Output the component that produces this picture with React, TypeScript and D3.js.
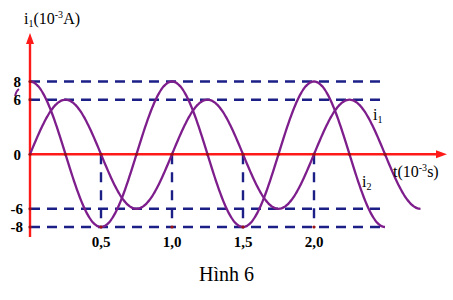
import React from "react";
import * as d3 from "d3";

const yTicks = [8, 6, 0, -6, -8];
const yTickLabels = ["8", "6", "0", "-6", "-8"];
const xTicks = [0.5, 1.0, 1.5, 2.0];
const xTickLabels = ["0,5", "1,0", "1,5", "2,0"];
// i2: amplitude 8 (cosine), i1: amplitude 6 (sine), period 1 ms
const ampCos = 8;
const ampSin = 6;
const period = 1.0;
const tEndCos = 2.5;
const tEndSin = 2.75;

const W = 453;
const H = 300;

export default function App() {
  const x = d3.scaleLinear().domain([0, 1]).range([30, 172]);
  const y = d3.scaleLinear().domain([-8, 8]).range([227, 81.5]);

  const mk = (f: (t: number) => number, t1: number) => {
    const pts: [number, number][] = d3.range(0, t1 + 1e-9, 0.01).map((t) => [t, f(t)]);
    return d3
      .line<[number, number]>()
      .x((d) => x(d[0]))
      .y((d) => y(d[1]))
      .curve(d3.curveMonotoneX)(pts) as string;
  };
  const cosPath = mk((t) => ampCos * Math.cos((2 * Math.PI * t) / period), tEndCos);
  const sinPath = mk((t) => ampSin * Math.sin((2 * Math.PI * t) / period), tEndSin);

  const navy = "#1b1f86";
  const purple = "#7e1e8c";
  const red = "#ff1a1a";
  const dash = "10 7";
  const bold = { fontFamily: "Liberation Serif, Times New Roman, serif", fontWeight: 700 as const };
  const serif = { fontFamily: "Liberation Serif, Times New Roman, serif" };

  const zeroCross = d3.range(0.25, 2.76, 0.25);
  const dots: [number, number][] = [
    [0, 8], [0, 6], [0, 0], [0, -6], [0, -8],
    ...zeroCross.filter((t) => t <= 2.5).map((t) => [t, 0] as [number, number]),
    [0.5, -8], [1.0, -8], [1.5, -8], [2.0, -8],
  ];

  return (
    <svg width={W} height={H} style={{ position: "absolute", left: 0, top: 0 }}>
      <rect width={W} height={H} fill="#fff" />
      {/* horizontal dashed guides */}
      {[8, 6, -6, -8].map((v) => (
        <line key={v} x1={x(0)} x2={386} y1={y(v)} y2={y(v)} stroke={navy} strokeWidth={2.4} strokeDasharray={dash} />
      ))}
      {/* vertical dashed guides */}
      {xTicks.map((t) => (
        <line key={t} x1={x(t)} x2={x(t)} y1={y(0)} y2={y(-8)} stroke={navy} strokeWidth={2.4} strokeDasharray="10 8" />
      ))}
      {/* axes */}
      <line x1={x(0)} x2={x(0)} y1={237} y2={40} stroke={red} strokeWidth={2.4} />
      <path d={`M${x(0) - 4},${44} L${x(0)},${33} L${x(0) + 4},${44} Z`} fill={red} />
      <line x1={x(0)} x2={440} y1={y(0)} y2={y(0)} stroke={red} strokeWidth={2.4} />
      <path d={`M${436},${y(0) - 4} L${447},${y(0)} L${436},${y(0) + 4} Z`} fill={red} />
      {/* curves */}
      <path d={cosPath} fill="none" stroke={purple} strokeWidth={2.3} />
      <path d={sinPath} fill="none" stroke={purple} strokeWidth={2.3} />
      {/* small stray mark near 6 */}
      <path d="M15,96 Q16,91 19,89" fill="none" stroke={purple} strokeWidth={1.8} />
      {/* dots */}
      {dots.map((d, i) => (
        <circle key={i} cx={x(d[0])} cy={y(d[1])} r={1.6} fill="#9b1010" />
      ))}
      {/* y tick labels */}
      {yTicks.map((v, i) => (
        <text key={v} x={v < 0 ? 23 : 21} y={y(v)} dy="0.35em" textAnchor="end" fontSize={15} style={bold}>
          {yTickLabels[i]}
        </text>
      ))}
      {/* x tick labels */}
      {xTicks.map((t, i) => (
        <text key={t} x={x(t)} y={247} textAnchor="middle" fontSize={15} style={bold}>
          {xTickLabels[i]}
        </text>
      ))}
      {/* axis titles */}
      <text x={24} y={24} fontSize={16} style={serif}>
        i<tspan fontSize={10} dy={3}>1</tspan>
        <tspan dy={-3}>(10</tspan>
        <tspan fontSize={10} dy={-6}>-3</tspan>
        <tspan dy={6}>A)</tspan>
      </text>
      <text x={393} y={177} fontSize={16} style={serif}>
        t(10<tspan fontSize={10} dy={-6}>-3</tspan>
        <tspan dy={6}>s)</tspan>
      </text>
      <text x={373} y={120} fontSize={16} style={serif}>
        i<tspan fontSize={10} dy={3}>1</tspan>
      </text>
      <text x={362} y={187} fontSize={16} style={serif}>
        i<tspan fontSize={10} dy={3}>2</tspan>
      </text>
      <text x={199} y={281} fontSize={20} style={serif}>
        Hình 6
      </text>
    </svg>
  );
}
